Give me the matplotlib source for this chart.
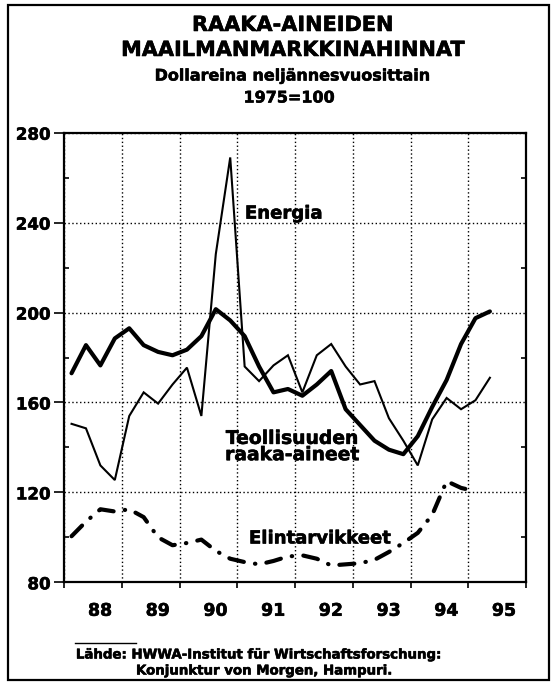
#!/usr/bin/env python3

import numpy as np
import matplotlib
matplotlib.use("Agg")
import matplotlib.pyplot as plt
import matplotlib.patheffects as pe
from matplotlib.lines import Line2D
from matplotlib.patches import Rectangle
from matplotlib.ticker import MultipleLocator, FixedLocator, NullFormatter, FixedFormatter

plt.rcParams["font.family"] = ["DejaVu Sans"]
plt.rcParams["font.weight"] = "bold"

# quarterly index values, 1975=100, starting 1988 Q1
teollisuus = [173, 185.5, 176.5, 188.5, 193, 185.5, 182.5, 181, 183.5, 189.5,
              201.5, 196.5, 189.5, 176, 164.5, 166, 163, 168, 174, 157,
              150, 143, 139, 137, 145, 158, 170, 186, 197.5, 200.5]
energia = [150.5, 148.5, 132, 125.5, 154, 164.5, 159.5, 168, 175.5, 154,
           226, 269, 176, 169.5, 176.5, 181, 164.5, 181, 186, 176,
           168, 169.5, 153, 143, 132, 152.5, 162, 157, 161, 171]
elintarvikkeet = [100.5, 107, 112.5, 111.5, 112.5, 109, 100, 96.5, 97.5, 99,
                  94, 90.5, 89, 88, 89.5, 91.5, 92, 90.5, 87.5, 88,
                  88.5, 90, 93.5, 97.5, 102, 110, 125, 122, 120.5]

year_labels = ["88", "89", "90", "91", "92", "93", "94", "95"]
y_ticks = [80, 120, 160, 200, 240, 280]

START = 1988

# a little extra ink to get closer to the heavy print face
HEAVY = [pe.withStroke(linewidth=0.4, foreground="black")]


def quarters(n):
    # middle of each quarter
    return START + 0.125 + 0.25 * np.arange(n)


fig = plt.figure(figsize=(5.54, 6.83), dpi=100)
ax = fig.add_axes([0.1161, 0.1474, 0.8333, 0.6583])

ax.plot(quarters(len(energia)), energia, color="black", lw=1.5,
        solid_joinstyle="miter", zorder=3)
ax.plot(quarters(len(teollisuus)), teollisuus, color="black", lw=3.0,
        solid_joinstyle="round", solid_capstyle="round", zorder=4)
ax.plot(quarters(len(elintarvikkeet)), elintarvikkeet, color="black", lw=3.0,
        dashes=(3.6, 2.7, 0.1, 2.7), dash_capstyle="round", zorder=4)

ax.set_xlim(START, START + len(year_labels))
ax.set_ylim(80, 280)

ax.xaxis.set_major_locator(MultipleLocator(1))
ax.xaxis.set_major_formatter(NullFormatter())
ax.xaxis.set_minor_locator(FixedLocator([START + k + 0.62 for k in range(len(year_labels))]))
ax.xaxis.set_minor_formatter(FixedFormatter(year_labels))
ax.tick_params(axis="x", which="major", direction="out", length=4, width=1.2)
ax.tick_params(axis="x", which="minor", length=0, pad=14, labelsize=12.5)

ax.set_yticks(y_ticks)
ax.yaxis.set_minor_locator(MultipleLocator(20))
ax.tick_params(axis="y", which="major", direction="out", length=7, width=1.2,
               labelsize=12, pad=3)
ax.tick_params(axis="y", which="minor", direction="in", length=3.5, width=1.2,
               left=True, right=True)
for lab in ax.get_xticklabels(minor=True) + ax.get_yticklabels():
    lab.set_fontweight("bold")
    lab.set_path_effects(HEAVY)

ax.grid(True, which="major", color="black", lw=1.0, linestyle=(0, (1, 1.8)))
for s in ax.spines.values():
    s.set_linewidth(1.6)

ax.text(1991.13, 244, "Energia", fontsize=13, fontweight="bold",
        ha="left", va="center", zorder=5, path_effects=HEAVY)
ax.text(1991.95, 140.4, "Teollisuuden\nraaka-aineet", fontsize=13.5,
        fontweight="bold", ha="center", va="center", linespacing=0.82,
        zorder=5, path_effects=HEAVY)
ax.text(1991.2, 99.5, "Elintarvikkeet", fontsize=13, fontweight="bold",
        ha="left", va="center", zorder=5, path_effects=HEAVY)

fig.text(0.528, 0.9634, "RAAKA-AINEIDEN", fontsize=15, fontweight="bold",
         ha="center", va="center", path_effects=HEAVY)
fig.text(0.528, 0.9268, "MAAILMANMARKKINAHINNAT", fontsize=15, fontweight="bold",
         ha="center", va="center", path_effects=HEAVY)
fig.text(0.529, 0.8887, "Dollareina neljännesvuosittain", fontsize=11.5,
         fontweight="bold", ha="center", va="center", path_effects=HEAVY)
fig.text(0.522, 0.8565, "1975=100", fontsize=11.5, fontweight="bold",
         ha="center", va="center", path_effects=HEAVY)

fig.text(0.137, 1 - 655 / 683, "Lähde: HWWA-Institut für Wirtschaftsforschung:",
         fontsize=9.6, fontweight="bold", ha="left", va="center", path_effects=HEAVY)
fig.text(0.2455, 1 - 671 / 683, "Konjunktur von Morgen, Hampuri.",
         fontsize=9.6, fontweight="bold", ha="left", va="center", path_effects=HEAVY)
fig.add_artist(Line2D([75 / 554, 136 / 554], [1 - 643 / 683, 1 - 643 / 683],
                      color="black", lw=1.0, transform=fig.transFigure))

# outer frame
fig.add_artist(Rectangle((8 / 554, 1 - 680 / 683), 541 / 554, 675 / 683,
                         transform=fig.transFigure, fill=False,
                         edgecolor="black", lw=1.6))

fig.savefig("out.png", dpi=100)
